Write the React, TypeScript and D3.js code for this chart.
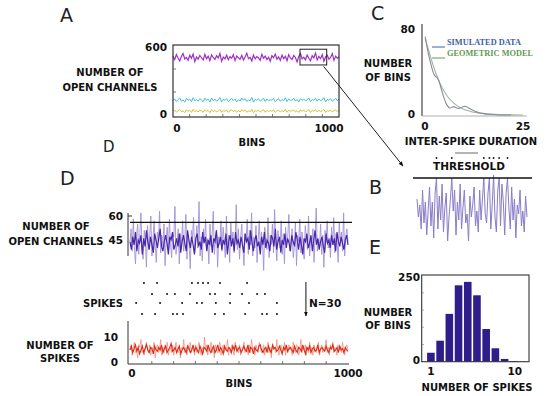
import React from 'react';
import * as d3 from 'd3';

const W = 550;
const H = 396;
const font = '"DejaVu Sans", Verdana, sans-serif';

// ---------- panel A : open channels, three populations ----------
const aPurple = [
  512, 482, 525, 495, 470, 508, 535, 488, 500, 476, 520, 493, 530, 465, 505, 485, 518, 498, 478, 528,
  490, 510, 472, 522, 500, 483, 515, 496, 535, 468, 503, 488, 520, 480, 508, 493, 525, 473, 512, 498,
  485, 518, 478, 505, 538, 490, 500, 470, 522, 488, 508, 496, 475, 528, 493, 512, 482, 503, 467, 515,
  498, 530, 485, 505, 475, 520, 490, 510, 472, 525, 496, 483, 518, 500, 462, 508, 535, 488, 503, 480,
  522, 493, 470, 515, 498, 538, 478, 510, 490, 525, 467, 505, 520, 485, 500, 533, 475, 512, 493, 508,
];
const aCyan = [
  125, 140, 118, 135, 148, 120, 131, 112, 145, 128, 138, 115, 150, 124, 134, 119, 142, 130, 116, 146,
  127, 136, 112, 148, 124, 139, 120, 131, 152, 114, 135, 128, 142, 117, 130, 146, 124, 139, 114, 134,
  120, 148, 127, 142, 117, 131, 124, 153, 112, 135, 128, 142, 120, 131, 147, 117, 139, 124, 134, 128,
  145, 114, 131, 142, 120, 135, 124, 150, 117, 139, 128, 131, 146, 120, 135, 114, 142, 128, 139, 124,
  131, 148, 117, 135, 128, 145, 120, 139, 124, 131, 151, 114, 135, 128, 142, 120, 131, 146, 124, 139,
];
const aYellow = [
  33, 43, 25, 38, 47, 29, 36, 20, 45, 33, 41, 23, 49, 29, 38, 26, 43, 35, 24, 45,
  33, 38, 20, 47, 29, 41, 26, 36, 49, 23, 38, 33, 43, 24, 36, 45, 29, 41, 23, 38,
  26, 47, 33, 43, 24, 36, 29, 50, 20, 38, 33, 43, 26, 36, 47, 24, 41, 29, 38, 33,
  45, 23, 36, 43, 26, 38, 29, 49, 24, 41, 33, 36, 45, 26, 38, 23, 43, 33, 41, 29,
  36, 47, 24, 38, 33, 45, 26, 41, 29, 36, 49, 23, 38, 33, 43, 26, 36, 45, 29, 41,
];
const aYTicks = [0, 600];
const aXTicks = [0, 1000];
const aInset = { x0: 765, x1: 926, y0: 435, y1: 572 };

// ---------- panel C : inter-spike durations ----------
const cSimX = [0.3, 0.7, 1, 1.5, 2, 2.5, 3, 3.5, 4, 4.5, 5, 5.5, 6, 6.5, 7, 7.5, 8, 8.5, 9, 9.5, 10, 10.5, 11, 11.5, 12, 13, 14, 15, 16, 18, 20, 22];
const cSimY = [72, 64, 58, 50, 43, 37, 35, 34, 29, 22, 16, 11, 8, 6, 7, 8, 7, 6, 6, 7, 8, 8, 7, 6, 5, 3, 2, 1.2, 0.6, 0.2, 0, 0];
const cGeoX = [0.3, 1, 2, 3, 4, 5, 6, 7, 8, 9, 10, 11, 12, 13, 14, 16, 18, 20, 22, 25];
const cGeoY = [70, 62, 49, 38, 29, 22, 16.5, 12.5, 9.5, 7, 5.3, 4, 3, 2.3, 1.7, 1, 0.5, 0.3, 0.1, 0];
const cXTicks = [0, 25];
const cYTicks = [0, 80];

// ---------- panel B : zoomed trace with threshold ----------
const bTrace = [
  50, 44, 48, 40, 53, 42, 49, 38, 46, 54,
  41, 49, 37, 52, 57, 40, 51, 43, 55, 39,
  47, 52, 36, 44, 50, 57, 46, 53, 38, 49,
  43, 55, 40, 47, 53, 42, 45, 36, 51, 44,
  48, 54, 41, 46, 39, 53, 43, 50, 57, 45,
  42, 52, 57, 40, 48, 58, 44, 39, 53, 57,
  41, 55, 49, 38, 52, 57, 47, 40, 54, 43,
  50, 37, 48, 45, 53, 41, 46, 39, 51, 44,
];
const bThreshold = 57;

// ---------- panel D : channels, spikes, spike counts ----------
const dRaw = [
  44, 52, 38, 58, 41, 30, 47, 55, 36, 49, 62, 40, 33, 51, 45, 28, 54, 39, 48, 60,
  35, 46, 57, 42, 31, 50, 44, 63, 37, 48, 41, 55, 29, 46, 53, 39, 58, 43, 34, 50,
  47, 66, 36, 44, 52, 30, 49, 41, 57, 38, 45, 61, 33, 48, 42, 27, 51, 46, 59, 37,
  43, 54, 40, 69, 35, 47, 32, 52, 44, 58, 39, 46, 30, 55, 41, 49, 63, 36, 45, 51,
  28, 47, 42, 57, 38, 53, 44, 34, 60, 40, 48, 31, 56, 43, 50, 37, 45, 67, 39, 52,
  33, 46, 55, 41, 29, 49, 44, 58, 36, 51, 42, 62, 35, 47, 40, 54, 31, 45, 57, 38,
  50, 43, 26, 53, 46, 39, 59, 34, 48, 42, 55, 37, 64, 44, 32, 51, 45, 40, 57, 36,
  49, 30, 53, 43, 47, 61, 38, 45, 52, 34, 41, 56, 29, 48, 44, 58, 37, 50, 42, 33,
  54, 46, 39, 60, 35, 47, 43, 52, 31, 49, 65, 38, 45, 41, 55, 36, 48, 28, 51, 44,
  57, 40, 46, 34, 53, 42, 59, 37, 49, 45, 31, 56, 43, 50, 38, 62, 35, 47, 52, 44,
];
const dCore = [
  44, 39, 47, 42, 50, 38, 45, 43, 48, 36, 46, 41, 51, 44, 39, 47, 42, 37, 49, 45,
  40, 46, 52, 41, 38, 44, 48, 43, 36, 47, 45, 50, 39, 42, 46, 41, 49, 37, 44, 48,
  43, 38, 51, 45, 40, 47, 42, 36, 46, 49, 41, 44, 39, 50, 43, 47, 38, 45, 42, 48,
  37, 46, 44, 51, 40, 43, 47, 39, 45, 42, 49, 36, 44, 48, 41, 46, 38, 50, 43, 45,
  40, 47, 42, 37, 49, 44, 46, 39, 51, 43, 38, 45, 48, 41, 44, 36, 47, 42, 50, 40,
  45, 43, 38, 48, 46, 41, 52, 39, 44, 47, 37, 45, 42, 49, 40, 46, 43, 38, 48, 44,
  41, 50, 45, 39, 47, 42, 36, 46, 44, 49, 40, 43, 48, 38, 45, 51, 42, 46, 39, 44,
  47, 41, 37, 49, 43, 45, 40, 48, 42, 46, 38, 50, 44, 41, 47, 43, 39, 45, 48, 42,
];
const dThreshold = 56;
const dYTicks = [45, 60];
const spikeRows = [
  [64, 124, 284, 312, 335, 358, 413, 537],
  [101, 170, 206, 275, 367, 390, 459, 514, 583, 619],
  [28, 138, 239, 307, 330, 394, 459, 546, 674],
  [55, 115, 197, 216, 243, 390, 431, 528, 606, 628, 674],
];
const nArrowBin = 807;
const rRaw = [
  5, 7, 3, 6, 8, 4, 5, 2, 7, 6, 9, 4, 5, 3, 6, 8, 5, 4, 7, 3,
  6, 5, 8, 2, 6, 7, 4, 5, 9, 3, 6, 4, 7, 5, 8, 3, 5, 6, 4, 7,
  3, 6, 8, 5, 4, 7, 2, 6, 5, 9, 4, 6, 3, 7, 5, 8, 4, 6, 5, 3,
  7, 4, 6, 8, 5, 3, 6, 4, 10, 5, 7, 3, 6, 5, 8, 4, 6, 2, 7, 5,
  4, 6, 8, 3, 5, 7, 4, 6, 5, 9, 3, 6, 4, 7, 5, 3, 8, 5, 6, 4,
  7, 3, 5, 6, 8, 4, 6, 5, 3, 7, 4, 9, 5, 6, 3, 7, 5, 4, 8, 6,
  4, 5, 7, 3, 6, 5, 8, 4, 6, 2, 7, 5, 6, 4, 9, 5, 3, 6, 7, 4,
  5, 8, 3, 6, 4, 7, 5, 6, 3, 8, 5, 4, 7, 6, 3, 5, 9, 4, 6, 5,
  7, 3, 6, 4, 8, 5, 6, 3, 7, 5, 4, 6, 8, 3, 5, 7, 4, 6, 5, 9,
  4, 6, 3, 7, 5, 8, 4, 6, 5, 3, 7, 5, 6, 4, 8, 5, 3, 6, 7, 5,
];
const rCore = [
  5, 6.5, 4, 5.5, 7, 4.5, 6, 3.5, 5, 6.5, 4, 5.5, 7, 5, 4, 6, 5.5, 3.5, 6.5, 5,
  4.5, 6, 5, 7, 4, 5.5, 6.5, 4, 5, 6, 7.5, 4.5, 5, 6, 4, 5.5, 6.5, 3.5, 5, 6,
  5, 4, 6.5, 5.5, 4, 5, 7, 4.5, 6, 5, 4, 6.5, 5, 3.5, 6, 5.5, 4.5, 7, 5, 4,
  5.5, 6.5, 4, 5, 7, 4.5, 6, 5, 3.5, 6.5, 5, 4.5, 6, 5.5, 4, 6.5, 5, 7, 4.5, 5.5,
  6, 4, 5, 6.5, 5, 4.5, 7, 4, 6, 5.5, 3.5, 6, 5, 4.5, 6.5, 7, 5, 4, 5.5, 6,
  4, 6.5, 5, 4, 7, 5.5, 6, 4.5, 5, 6.5, 5, 3.5, 6, 5, 7, 4.5, 5.5, 6, 5, 4,
  6.5, 5, 4, 6, 5.5, 4.5, 7, 5, 3.5, 6, 5, 6.5, 4, 5.5, 6, 4.5, 5, 7, 4, 5.5,
  6, 5, 4.5, 6.5, 5, 4, 6, 5.5, 7, 4.5, 5, 6, 4, 6.5, 5, 5.5, 4, 6, 5, 4.5,
];
const rYTicks = [0, 10];
const dXTicks = [0, 1000];

// ---------- panel E : histogram of spike counts ----------
const eSpikes = [1, 2, 3, 4, 5, 6, 7, 8, 9, 10];
const eCounts = [26, 61, 139, 222, 232, 193, 95, 39, 8, 2];
const eXTicks = [1, 10];
const eYTicks = [0, 250];

const T = ({ x, y, children, anchor = 'middle', size = 10, weight = 'bold', fill = '#111', family = font }: any) => (
  <text x={x} y={y} textAnchor={anchor} fontSize={size} fontWeight={weight} fill={fill} fontFamily={family}>
    {children}
  </text>
);

function trace(vals: number[], x: any, y: any, domain = [0, 1000]) {
  const idx = d3.scaleLinear().domain([0, vals.length - 1]).range(domain);
  return d3.line<number>().x((d, i) => x(idx(i))).y(d => y(d))(vals) || '';
}

function PanelA() {
  const x = d3.scaleLinear().domain([0, 1000]).range([173, 339]);
  const y = d3.scaleLinear().domain([0, 600]).range([115, 46]);
  return (
    <g>
      <T x={60} y={22} size={19} weight="normal" anchor="start" fill="#222">A</T>
      <path d={trace(aYellow, x, y)} fill="none" stroke="#d2c23a" strokeWidth={1} />
      <path d={trace(aCyan, x, y)} fill="none" stroke="#3ec2d2" strokeWidth={1} />
      <path d={trace(aPurple, x, y)} fill="none" stroke="#a030c4" strokeWidth={1.2} />
      <rect x={173} y={45} width={166} height={72} fill="none" stroke="#333" strokeWidth={1.2} />
      {d3.range(100, 1000, 100).map(t => (
        <line key={t} x1={x(t)} x2={x(t)} y1={117} y2={114} stroke="#555" strokeWidth={0.8} />
      ))}
      {[200, 400].map(t => (
        <line key={t} x1={173} x2={176} y1={y(t)} y2={y(t)} stroke="#555" strokeWidth={0.8} />
      ))}
      <rect x={x(aInset.x0)} y={y(aInset.y1)} width={x(aInset.x1) - x(aInset.x0)} height={y(aInset.y0) - y(aInset.y1)}
        fill="none" stroke="#222" strokeWidth={1} />
      <line x1={x(aInset.x1) - 3} y1={y(aInset.y0) + 1.5} x2={403} y2={166} stroke="#222" strokeWidth={1} markerEnd="url(#arr)" />
      <T x={167} y={51} anchor="end" size={10.5}>{aYTicks[1]}</T>
      <T x={167} y={118} anchor="end" size={10.5}>{aYTicks[0]}</T>
      <T x={x(aXTicks[0]) + 4} y={132} size={10.5}>{aXTicks[0]}</T>
      <T x={x(aXTicks[1]) - 10} y={132} size={10.5}>{aXTicks[1]}</T>
      <T x={252} y={146}>BINS</T>
      <T x={110} y={76}>NUMBER OF</T>
      <T x={110} y={91}>OPEN CHANNELS</T>
      <T x={103} y={152} size={15} weight="normal" anchor="start" fill="#222">D</T>
    </g>
  );
}

function PanelC() {
  const x = d3.scaleLinear().domain([0, 25]).range([424, 523]);
  const y = d3.scaleLinear().domain([0, 80]).range([115, 28]);
  const line = (xs: number[], ys: number[]) =>
    d3.line<number>().x(d => x(d)).y((d, i) => y(ys[i])).curve(d3.curveBasis)(xs) || '';
  return (
    <g>
      <T x={371} y={20} size={19} weight="normal" anchor="start" fill="#222">C</T>
      <line x1={422} x2={422} y1={24} y2={116} stroke="#444" strokeWidth={1.2} />
      <line x1={422} x2={527} y1={116} y2={116} stroke="#999" strokeWidth={0.8} />
      <path d={line(cGeoX, cGeoY)} fill="none" stroke="#9cb894" strokeWidth={1.1} />
      <path d={line(cSimX, cSimY)} fill="none" stroke="#8a8aa0" strokeWidth={1.1} />
      <line x1={432} x2={445} y1={47} y2={47} stroke="#3b62a8" strokeWidth={1} />
      <line x1={432} x2={445} y1={58} y2={58} stroke="#5f9a55" strokeWidth={1} />
      <T x={447} y={45} anchor="start" size={8.3} family='"Liberation Serif", serif' fill="#3b5ea6">SIMULATED DATA</T>
      <T x={447} y={56} anchor="start" size={8.3} family='"Liberation Serif", serif' fill="#5f9a55">GEOMETRIC MODEL</T>
      <T x={415} y={33} anchor="end" size={10.5}>{cYTicks[1]}</T>
      <T x={415} y={118} anchor="end" size={10.5}>{cYTicks[0]}</T>
      <T x={x(cXTicks[0]) + 1} y={130} size={10.5}>{cXTicks[0]}</T>
      <T x={x(cXTicks[1])} y={130} size={10.5}>{cXTicks[1]}</T>
      <T x={388} y={67}>NUMBER</T>
      <T x={388} y={81}>OF BINS</T>
      <T x={471} y={145}>INTER-SPIKE DURATION</T>
    </g>
  );
}

function PanelB() {
  const x = d3.scaleLinear().domain([0, bTrace.length - 1]).range([417, 527]);
  const y = d3.scaleLinear().domain([33, bThreshold]).range([250, 178]);
  const path = d3.line<number>().x((d, i) => x(i)).y(d => y(d))(bTrace) || '';
  const spikes = bTrace.map((v, i) => (v >= bThreshold ? i : -1)).filter(i => i >= 0);
  return (
    <g>
      <T x={369} y={194} size={19} weight="normal" anchor="start" fill="#222">B</T>
      <path d={path} fill="none" stroke="#8a7cc8" strokeWidth={1} />
      <line x1={413} x2={532} y1={y(bThreshold)} y2={y(bThreshold)} stroke="#111" strokeWidth={1.3} />
      <line x1={455} x2={478} y1={153} y2={153} stroke="#444" strokeWidth={0.8} />
      {spikes.map(i => <circle key={i} cx={x(i)} cy={158} r={0.9} fill="#111" />)}
      <T x={469} y={170} size={10.5}>THRESHOLD</T>
    </g>
  );
}

function PanelD() {
  const x = d3.scaleLinear().domain([0, 1000]).range([130, 348]);
  const y = d3.scaleLinear().domain([45, 60]).range([240, 216]);
  const yr = d3.scaleLinear().domain([0, 10]).range([363, 337]);
  const rowY = [283, 294, 303, 314];
  return (
    <g>
      <T x={60} y={185} size={19} weight="normal" anchor="start" fill="#222">D</T>
      <path d={trace(dRaw, x, y)} fill="none" stroke="#a092d6" strokeWidth={0.9} />
      <path d={trace(dCore, x, y)} fill="none" stroke="#4a26aa" strokeWidth={1.2} />
      <line x1={130} x2={352} y1={y(dThreshold)} y2={y(dThreshold)} stroke="#111" strokeWidth={1.3} />
      <line x1={128} x2={128} y1={213} y2={256} stroke="#333" strokeWidth={1} />
      <line x1={128} x2={132} y1={y(60)} y2={y(60)} stroke="#333" strokeWidth={1} />
      <T x={123} y={220} anchor="end" size={10.5}>{dYTicks[1]}</T>
      <T x={123} y={244} anchor="end" size={10.5}>{dYTicks[0]}</T>
      <T x={56} y={230}>NUMBER OF</T>
      <T x={56} y={245}>OPEN CHANNELS</T>

      {spikeRows.map((row, r) => row.map(b => (
        <circle key={r + '-' + b} cx={x(b)} cy={rowY[r]} r={1} fill="#111" />
      )))}
      <T x={123} y={307} anchor="end">SPIKES</T>
      <line x1={x(nArrowBin)} x2={x(nArrowBin)} y1={282} y2={316} stroke="#111" strokeWidth={1} markerEnd="url(#arr)" />
      <T x={309} y={307} anchor="start" size={10.5}>N=30</T>

      <path d={trace(rRaw, x, yr)} fill="none" stroke="#f0907e" strokeWidth={0.8} />
      <path d={trace(rCore, x, yr)} fill="none" stroke="#dc2a16" strokeWidth={1.1} />
      <line x1={128} x2={128} y1={321} y2={364} stroke="#333" strokeWidth={1} />
      <line x1={128} x2={349} y1={364} y2={364} stroke="#333" strokeWidth={1} />
      {d3.range(100, 1000, 100).map(t => (
        <line key={t} x1={x(t)} x2={x(t)} y1={364} y2={361} stroke="#555" strokeWidth={0.8} />
      ))}
      <T x={118} y={341} anchor="end" size={10.5}>{rYTicks[1]}</T>
      <T x={118} y={366} anchor="end" size={10.5}>{rYTicks[0]}</T>
      <T x={x(dXTicks[0]) + 2} y={377} size={10.5}>{dXTicks[0]}</T>
      <T x={x(dXTicks[1])} y={377} size={10.5}>{dXTicks[1]}</T>
      <T x={239} y={387}>BINS</T>
      <T x={60} y={349}>NUMBER OF</T>
      <T x={60} y={362}>SPIKES</T>
    </g>
  );
}

function PanelE() {
  const x = d3.scaleLinear().domain([0, 11.65]).range([421.7, 529]);
  const y = d3.scaleLinear().domain([0, 252]).range([361.7, 275]);
  const bw = 7.6;
  return (
    <g>
      <T x={369} y={254} size={19} weight="normal" anchor="start" fill="#222">E</T>
      {eSpikes.map((s, i) => (
        <rect key={s} x={x(s) - bw / 2} y={y(eCounts[i])} width={bw} height={y(0) - y(eCounts[i])} fill="#2f1d8c" />
      ))}
      <rect x={421.7} y={275} width={107.3} height={86.7} fill="none" stroke="#333" strokeWidth={1.1} />
      {[50, 100, 150, 200].map(t => (
        <line key={t} x1={421.7} x2={424} y1={y(t)} y2={y(t)} stroke="#777" strokeWidth={0.6} />
      ))}
      <T x={420} y={281} anchor="end" size={10.5}>{eYTicks[1]}</T>
      <T x={420} y={364} anchor="end" size={10.5}>{eYTicks[0]}</T>
      <T x={x(eXTicks[0])} y={375} size={10.5}>{eXTicks[0]}</T>
      <T x={x(eXTicks[1]) + 1} y={375} size={10.5}>{eXTicks[1]}</T>
      <T x={388} y={316}>NUMBER</T>
      <T x={388} y={329}>OF BINS</T>
      <T x={477} y={391}>NUMBER OF SPIKES</T>
    </g>
  );
}

export default function App() {
  return (
    <svg width={W} height={H} style={{ position: 'absolute', left: 0, top: 0, background: '#fff' }}>
      <defs>
        <marker id="arr" viewBox="0 0 10 10" refX="9" refY="5" markerWidth="5" markerHeight="5" orient="auto">
          <path d="M0,1 L10,5 L0,9 z" fill="#111" />
        </marker>
      </defs>
      <rect width={W} height={H} fill="#fff" />
      <PanelA />
      <PanelC />
      <PanelB />
      <PanelD />
      <PanelE />
    </svg>
  );
}
